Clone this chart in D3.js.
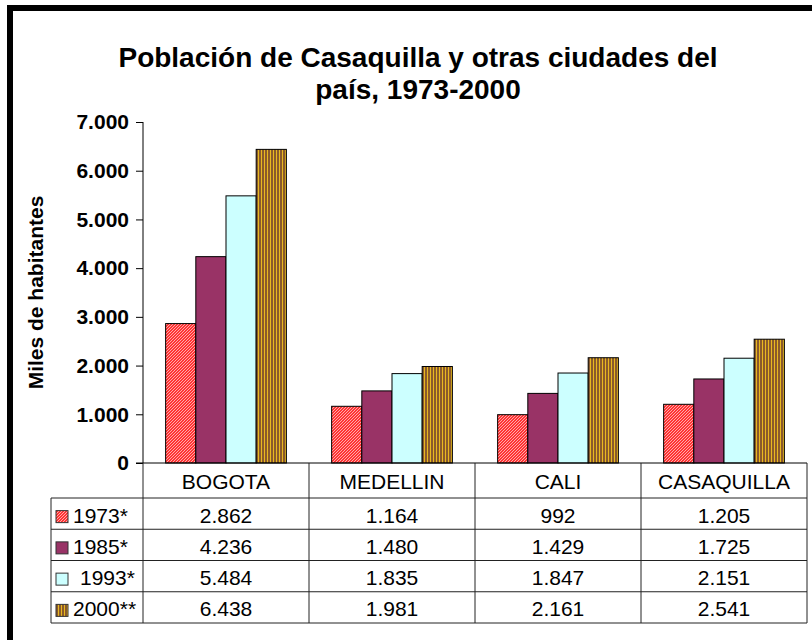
<!DOCTYPE html>
<html>
<head>
<meta charset="utf-8">
<script src="https://cdn.jsdelivr.net/npm/d3@7"></script>
<style>
  body { margin: 0; background: #fff; }
  text { font-family: Arial, "Liberation Sans", sans-serif; fill: #000; }
</style>
</head>
<body>
<div id="chart"></div>
<script>
var svgWidth = 812;
var svgHeight = 640;

// data (miles de habitantes)
var cities = ["BOGOTA", "MEDELLIN", "CALI", "CASAQUILLA"];
var years = ["1973*", "1985*", "1993*", "2000**"];
var v1973 = [2862, 1164, 992, 1205];
var v1985 = [4236, 1480, 1429, 1725];
var v1993 = [5484, 1835, 1847, 2151];
var v2000 = [6438, 1981, 2161, 2541];
var yTicks = [0, 1000, 2000, 3000, 4000, 5000, 6000, 7000];

var seriesValues = [v1973, v1985, v1993, v2000];

var plot = { left: 143, right: 807, top: 122, bottom: 463 };
var rowH = 31.25;
var tableLeft = 51;
var headerBottom = 498;

var svg = d3.select("#chart")
  .append("svg")
  .attr("width", svgWidth)
  .attr("height", svgHeight);

// patterns for the fills
var defs = svg.append("defs");

var p1 = defs.append("pattern")
  .attr("id", "pat1973")
  .attr("patternUnits", "userSpaceOnUse")
  .attr("width", 3).attr("height", 3);
p1.append("rect").attr("width", 3).attr("height", 3).attr("fill", "#ff3333");
p1.append("path").attr("d", "M0,3 L3,0").attr("stroke", "#ffb8b8").attr("stroke-width", 0.9);

var p4 = defs.append("pattern")
  .attr("id", "pat2000")
  .attr("patternUnits", "userSpaceOnUse")
  .attr("width", 3).attr("height", 3);
p4.append("rect").attr("width", 3).attr("height", 3).attr("fill", "#8a5a2b");
p4.append("rect").attr("x", 1).attr("width", 1).attr("height", 3).attr("fill", "#e8b820");

var fills = ["url(#pat1973)", "#993366", "#ccffff", "url(#pat2000)"];

// outer frame (cropped at right and bottom)
svg.append("rect")
  .attr("x", 10).attr("y", 8)
  .attr("width", svgWidth + 20).attr("height", svgHeight + 20)
  .attr("fill", "none")
  .attr("stroke", "#000")
  .attr("stroke-width", 6);

// title
var title = svg.append("text")
  .attr("text-anchor", "middle")
  .attr("font-weight", "bold")
  .attr("font-size", 28);
title.append("tspan").attr("x", 418).attr("y", 67).text("Población de Casaquilla y otras ciudades del");
title.append("tspan").attr("x", 418).attr("y", 99).text("país, 1973-2000");

// scales
var x0 = d3.scaleBand()
  .domain(cities)
  .range([plot.left, plot.right])
  .paddingInner(0)
  .paddingOuter(0);

var x1 = d3.scaleBand()
  .domain(years)
  .range([0, x0.bandwidth()])
  .paddingInner(0)
  .paddingOuter(0.75);

var yScale = d3.scaleLinear()
  .domain([0, 7000])
  .range([plot.bottom, plot.top]);

var fmt = d3.formatLocale({ decimal: ",", thousands: ".", grouping: [3], currency: ["", ""] }).format(",d");

// y axis
var leftAxis = d3.axisLeft(yScale)
  .tickValues(yTicks)
  .tickSize(7)
  .tickPadding(7)
  .tickFormat(fmt);

var yAxis = svg.append("g")
  .attr("transform", "translate(" + plot.left + ",0)")
  .call(leftAxis);
yAxis.select(".domain").attr("stroke", "#000").attr("d", "M0," + plot.top + "V" + plot.bottom);
yAxis.selectAll(".tick line").attr("stroke", "#000");
yAxis.selectAll(".tick text")
  .attr("font-size", 21)
  .attr("font-weight", "bold")
  .attr("font-family", "Arial, 'Liberation Sans', sans-serif");

svg.append("text")
  .attr("transform", "translate(43," + ((plot.top + plot.bottom) / 2) + ") rotate(-90)")
  .attr("text-anchor", "middle")
  .attr("font-weight", "bold")
  .attr("font-size", 21)
  .text("Miles de habitantes");

// bars
var groups = svg.append("g").selectAll("g")
  .data(cities)
  .enter()
  .append("g")
  .attr("transform", function (d) { return "translate(" + x0(d) + ",0)"; });

groups.selectAll("rect")
  .data(function (c, ci) {
    return years.map(function (yr, si) { return { year: yr, si: si, value: seriesValues[si][ci] }; });
  })
  .enter()
  .append("rect")
  .attr("x", function (d) { return x1(d.year); })
  .attr("y", function (d) { return yScale(d.value); })
  .attr("width", x1.bandwidth())
  .attr("height", function (d) { return plot.bottom - yScale(d.value); })
  .attr("fill", function (d) { return fills[d.si]; })
  .attr("stroke", "#000")
  .attr("stroke-width", 1);

// x axis line
svg.append("line")
  .attr("x1", plot.left - 7).attr("x2", plot.right)
  .attr("y1", plot.bottom).attr("y2", plot.bottom)
  .attr("stroke", "#000");

// data table
var table = svg.append("g").attr("stroke", "#222").attr("stroke-width", 1);
var tableBottom = headerBottom + rowH * years.length;

// vertical lines at category boundaries
cities.forEach(function (c) {
  table.append("line")
    .attr("x1", x0(c)).attr("x2", x0(c))
    .attr("y1", plot.bottom).attr("y2", tableBottom);
});
table.append("line")
  .attr("x1", plot.right).attr("x2", plot.right)
  .attr("y1", plot.bottom).attr("y2", tableBottom);
table.append("line")
  .attr("x1", tableLeft).attr("x2", tableLeft)
  .attr("y1", headerBottom).attr("y2", tableBottom);

// horizontal lines
d3.range(years.length + 1).forEach(function (i) {
  table.append("line")
    .attr("x1", tableLeft).attr("x2", plot.right)
    .attr("y1", headerBottom + i * rowH).attr("y2", headerBottom + i * rowH);
});

// category labels
svg.append("g").selectAll("text")
  .data(cities)
  .enter()
  .append("text")
  .attr("x", function (d) { return x0(d) + x0.bandwidth() / 2; })
  .attr("y", (plot.bottom + headerBottom) / 2 + 8)
  .attr("text-anchor", "middle")
  .attr("font-size", 21)
  .text(function (d) { return d; });

// rows
years.forEach(function (yr, si) {
  var yMid = headerBottom + si * rowH + rowH / 2;

  svg.append("rect")
    .attr("x", 56).attr("y", yMid - 3)
    .attr("width", 12).attr("height", 12)
    .attr("fill", fills[si])
    .attr("stroke", "#333");

  svg.append("text")
    .attr("x", si === 2 ? 80 : 73)
    .attr("y", yMid + 9)
    .attr("font-size", 21)
    .text(yr);

  cities.forEach(function (c, ci) {
    svg.append("text")
      .attr("x", x0(c) + x0.bandwidth() / 2)
      .attr("y", yMid + 9)
      .attr("text-anchor", "middle")
      .attr("font-size", 21)
      .text(fmt(seriesValues[si][ci]));
  });
});
</script>
</body>
</html>
